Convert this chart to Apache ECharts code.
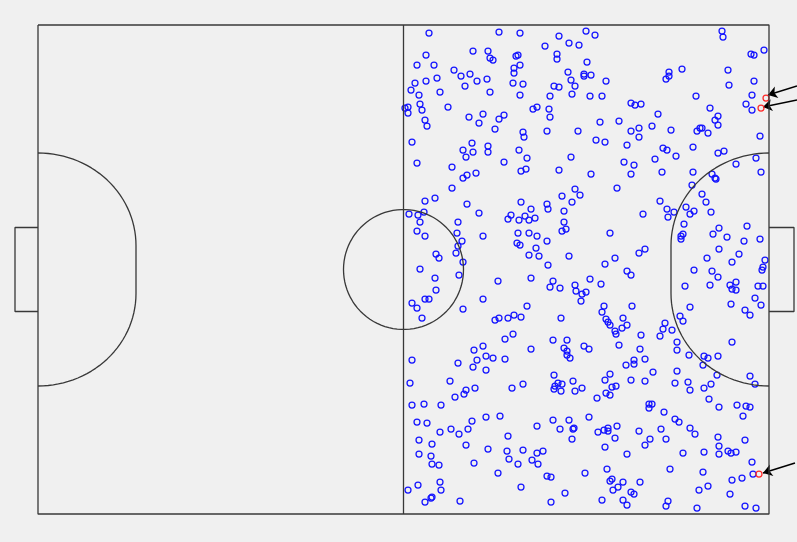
<!DOCTYPE html>
<html>
<head>
<meta charset="utf-8">
<title>Pitch map</title>
<script src="https://cdn.jsdelivr.net/npm/echarts@6/dist/echarts.min.js"></script>
<style>
html, body { margin: 0; padding: 0; background: #f0f0f0; }
#main { width: 797px; height: 542px; }
</style>
</head>
<body>
<div id="main"></div>
<script>
// positions on the pitch, origin at the top-left corner, y going down
const bluePoints = [
  [391,8],[461,7],[482,8],[435,26],[450,26],[388,30],[452,33],[455,35],[478,31],[480,30],
  [379,40],[396,40],[482,40],[416,45],[476,43],[476,48],[423,51],[432,49],[399,53],[388,56],
  [377,58],[439,56],[449,54],[475,58],[485,59],[427,61],[373,65],[402,67],[452,67],[381,70],
  [482,70],[382,79],[367,83],[370,82],[370,88],[384,85],[410,82],[445,89],[466,90],[461,94],
  [431,92],[441,98],[387,95],[389,101],[457,104],[485,107],[486,112],[374,117],[434,118],[450,121],
  [450,127],[425,125],[435,127],[481,125],[428,132],[379,138],[466,137],[414,142],[483,146],[488,144],
  [438,148],[425,153],[429,150],[414,163],
  [548,6],[557,10],[521,11],[531,18],[541,20],[507,21],[519,29],[519,34],[549,37],[530,47],
  [546,49],[546,51],[553,50],[533,55],[568,56],[537,61],[516,61],[521,62],[512,71],[534,69],
  [552,71],[564,71],[495,84],[499,82],[511,84],[512,92],[593,78],[597,80],[603,79],[562,97],
  [581,96],[509,106],[540,106],[593,106],[601,103],[601,112],[558,115],[567,117],[589,120],[489,133],
  [533,132],[521,145],[586,137],[596,140],[553,149],[593,149],[537,164],[579,163],
  [684,6],[685,12],[726,25],[713,29],[716,30],[644,44],[631,47],[631,51],[628,54],[690,45],
  [716,56],[691,60],[658,71],[714,70],[708,79],[714,85],[672,83],[620,89],[680,91],[677,95],
  [680,100],[614,101],[633,105],[662,103],[659,106],[664,103],[670,108],[722,111],[625,123],[629,125],
  [655,122],[686,126],[680,128],[638,131],[617,134],[718,133],[698,139],[624,147],[655,147],[723,147],
  [674,149],[677,153],[678,154],[654,160],
  [387,176],[397,173],[429,179],[483,177],[371,189],[380,190],[386,187],[441,188],[470,194],[473,190],
  [481,195],[382,197],[420,197],[379,206],[387,211],[419,208],[424,216],[445,211],[480,208],[479,218],
  [482,220],[420,221],[418,228],[398,229],[401,233],[425,237],[382,244],[421,250],[397,253],[460,256],
  [398,265],[387,274],[391,274],[445,274],[374,278],[379,283],[384,293],[425,284],[457,295],[461,293],
  [470,293],[476,290],[483,292],[475,309],[467,314],[445,321],[436,325],
  [524,171],[542,170],[534,177],[509,179],[510,184],[493,184],[526,186],[605,189],[487,191],[491,195],
  [497,193],[526,197],[524,206],[528,204],[572,208],[491,208],[499,211],[509,216],[498,223],[491,230],
  [501,231],[531,231],[577,233],[607,224],[601,228],[510,240],[567,239],[589,246],[593,250],[493,253],
  [515,256],[552,254],[512,262],[522,263],[537,260],[538,266],[563,259],[544,269],[548,267],[543,276],
  [489,281],[523,293],[566,281],[564,287],[594,281],[568,294],[570,297],[572,300],[585,293],[589,300],
  [584,303],[577,306],[578,309],[603,310],[515,315],[529,315],[546,321],[551,324],[581,320],[602,324],
  [493,324],[526,323],[529,326],
  [664,169],[668,177],[622,176],[629,184],[636,187],[630,192],[648,182],[656,186],[652,189],[673,187],
  [646,199],[643,211],[645,209],[643,214],[681,203],[675,209],[709,201],[689,212],[706,216],[722,214],
  [681,224],[669,233],[701,229],[694,237],[727,235],[725,242],[724,245],[656,245],[674,246],[680,252],
  [698,257],[692,260],[694,264],[698,265],[672,260],[647,261],[720,261],[725,261],[717,273],[693,279],
  [723,280],[652,282],[707,285],[712,290],[642,291],[645,296],[627,298],[625,304],[634,305],[622,311],
  [639,317],[694,317],[639,325],
  [374,335],[420,338],[439,335],[448,331],[455,333],[467,334],[435,342],[448,345],[372,358],[412,356],
  [428,365],[437,363],[426,369],[417,372],[474,363],[485,359],[374,380],[386,379],[403,380],[462,391],
  [448,392],[434,396],[379,397],[389,398],[413,404],[430,404],[402,407],[421,409],[470,411],[381,415],
  [394,419],[428,420],[450,424],[469,426],[485,425],[381,429],[393,431],[471,434],[480,439],[394,439],
  [401,440],[436,438],[460,448],[483,462],[370,465],[380,460],[402,457],[403,465],[394,472],[393,473],
  [387,477],[422,476],
  [529,330],[532,333],[596,335],[596,339],[588,340],[607,334],[516,350],[572,349],[535,356],[520,358],
  [524,359],[517,361],[567,355],[593,355],[607,356],[516,364],[523,366],[537,366],[544,363],[574,362],
  [578,361],[568,368],[572,370],[559,373],[551,392],[515,395],[531,395],[499,401],[522,404],[535,404],
  [536,403],[534,414],[579,401],[560,407],[566,405],[570,403],[570,406],[577,413],[601,406],[567,422],
  [607,420],[499,428],[505,426],[494,435],[500,439],[589,429],[547,448],[569,444],[509,451],[513,452],
  [572,456],[574,454],[585,457],[602,457],[580,462],[575,465],[593,467],[596,469],[527,468],[513,477],
  [564,475],[585,475],[589,480],
  [651,330],[666,331],[670,333],[680,331],[665,340],[615,347],[639,346],[679,350],[712,351],[717,359],
  [637,358],[650,357],[673,359],[652,365],[666,363],[671,374],[611,379],[614,379],[611,383],[626,387],
  [681,382],[699,380],[708,381],[712,382],[705,391],[637,394],[641,397],[652,403],[657,409],[623,404],
  [612,414],[628,414],[680,412],[681,421],[707,415],[645,428],[666,427],[681,429],[690,426],[693,428],
  [698,427],[714,437],[632,444],[665,447],[715,449],[704,453],[694,455],[661,465],[670,461],[692,469],
  [630,476],[628,481],[659,483],[707,481],[718,483]
];
const redPoints = [[728,73],[723,83],[721,449]];
// arrow start -> arrow end (pointing at the red points)
const arrowLines = [
  [[759,61],[730,70]],
  [[759,75],[725,82]],
  [[757,438],[725,448]]
];

// pitch size and markings
const L = 731, W = 489;
const mid = W / 2;
const goalDepth = 23, goalHalf = 42;
const circleR = 60;
const areaDepth = 98, areaHalf = 116.5, areaFlat = 24;

var myChart = echarts.init(document.getElementById('main'));

function arc(cx, cy, rx, ry, a0, a1, n) {
  const pts = [];
  for (let i = 0; i <= n; i++) {
    const t = a0 + (a1 - a0) * i / n;
    pts.push([cx + rx * Math.cos(t), cy + ry * Math.sin(t)]);
  }
  return pts;
}

// penalty area: two quarter ellipses joined by a short straight line
function area(side) {
  const x0 = side < 0 ? 0 : L;
  const ry = areaHalf - areaFlat;
  const top = arc(0, mid - areaFlat, areaDepth, ry, -Math.PI / 2, 0, 30);
  const bot = arc(0, mid + areaFlat, areaDepth, ry, 0, Math.PI / 2, 30);
  return top.concat(bot).map(p => [x0 - side * p[0], p[1]]);
}

const pitchShapes = [
  [[0, 0], [L, 0], [L, W], [0, W], [0, 0]],
  [[L / 2, 0], [L / 2, W]],
  arc(L / 2, mid, circleR, circleR, 0, Math.PI * 2, 90),
  [[0, mid - goalHalf], [-goalDepth, mid - goalHalf], [-goalDepth, mid + goalHalf], [0, mid + goalHalf]],
  [[L, mid - goalHalf], [L + goalDepth + 2, mid - goalHalf], [L + goalDepth + 2, mid + goalHalf], [L, mid + goalHalf]],
  area(-1),
  area(1)
];

const lineSeries = pitchShapes.map(d => ({
  type: 'line',
  data: d,
  symbol: 'none',
  silent: true,
  clip: false,
  animation: false,
  lineStyle: { color: '#383838', width: 1.3 }
}));

var option = {
  backgroundColor: '#f0f0f0',
  animation: false,
  grid: { left: 0, right: 0, top: 0, bottom: 0 },
  xAxis: { type: 'value', min: -38, max: 759, show: false },
  yAxis: { type: 'value', min: -25, max: 517, inverse: true, show: false },
  series: lineSeries.concat([
    {
      type: 'scatter',
      data: bluePoints,
      symbol: 'circle',
      symbolSize: 6,
      silent: true,
      itemStyle: { color: 'rgba(0,0,0,0)', borderColor: '#1414ff', borderWidth: 1.25, opacity: 1 }
    },
    {
      type: 'scatter',
      data: redPoints,
      symbol: 'circle',
      symbolSize: 6,
      silent: true,
      itemStyle: { color: 'rgba(0,0,0,0)', borderColor: '#ff2a2a', borderWidth: 1.25, opacity: 1 }
    },
    {
      type: 'lines',
      coordinateSystem: 'cartesian2d',
      data: arrowLines.map(c => ({ coords: c })),
      symbol: ['none', 'arrow'],
      symbolSize: 9,
      silent: true,
      lineStyle: { color: '#000', width: 1.5, opacity: 1 }
    }
  ])
};
myChart.setOption(option);
</script>
</body>
</html>
